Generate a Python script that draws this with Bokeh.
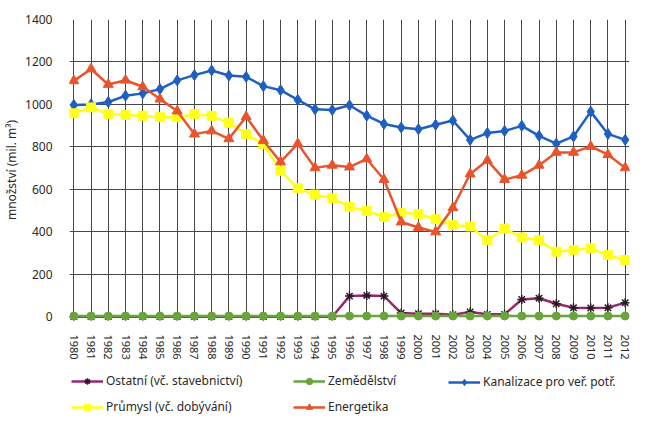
from bokeh.plotting import figure
from bokeh.layouts import column
from bokeh.models import Range1d, FixedTicker, Legend, LegendItem
from bokeh.embed import file_html
from bokeh.resources import INLINE

years = [1980, 1981, 1982, 1983, 1984, 1985, 1986, 1987, 1988, 1989, 1990,
         1991, 1992, 1993, 1994, 1995, 1996, 1997, 1998, 1999, 2000, 2001,
         2002, 2003, 2004, 2005, 2006, 2007, 2008, 2009, 2010, 2011, 2012]

ostatni = [0, 0, 0, 0, 0, 0, 0, 0, 0, 0, 0, 0, 0, 0, 0, 0,
           97, 100, 97, 17, 14, 14, 9, 22, 11, 11, 81, 87, 61, 42, 41, 42, 66]
zemedelstvi = [3, 3, 3, 3, 3, 3, 3, 3, 3, 3, 3, 3, 3, 3, 3, 3, 3,
               3, 3, 3, 3, 3, 3, 3, 3, 3, 3, 3, 3, 3, 3, 3, 3]
kanalizace = [997, 1000, 1011, 1041, 1052, 1072, 1113, 1138, 1160, 1136, 1130,
              1086, 1067, 1021, 977, 974, 996, 947, 908, 891, 883, 904,
              924, 833, 865, 875, 899, 852, 815, 849, 966, 861, 833]
prumysl = [958, 986, 955, 950, 947, 940, 940, 954, 946, 914, 860,
           813, 688, 605, 575, 558, 518, 498, 470, 490, 484, 459,
           432, 425, 360, 415, 373, 360, 306, 314, 322, 290, 267]
energetika = [1111, 1167, 1094, 1114, 1083, 1025, 969, 860, 875, 838, 942,
              830, 729, 815, 701, 713, 705, 743, 646, 446, 420, 399,
              513, 672, 736, 646, 666, 713, 774, 774, 802, 763, 701]

y_ticks = [0, 200, 400, 600, 800, 1000, 1200, 1400]
y_label = "množství (mil. m³)"

FONT = "Noto Sans"
TXT = "#2a2a2a"

p = figure(width=648, height=362,
           output_backend="svg", toolbar_location=None,
           x_range=Range1d(1979.75, 2012.25), y_range=Range1d(-18, 1400),
           min_border_left=66, min_border_right=19, min_border_top=19,
           min_border_bottom=40)
p.outline_line_color = None
p.background_fill_color = "white"
p.border_fill_color = "white"

p.xaxis.ticker = FixedTicker(ticks=years)
p.xaxis.major_label_overrides = {y: str(y) for y in years}
p.xaxis.major_label_orientation = "vertical"
p.yaxis.ticker = FixedTicker(ticks=y_ticks)
for ax in (p.xaxis, p.yaxis):
    ax.axis_line_color = None
    ax.major_tick_line_color = None
    ax.minor_tick_line_color = None
    ax.major_label_text_font = FONT
    ax.major_label_text_color = TXT
p.xaxis.major_label_text_font_size = "11px"
p.xaxis.major_label_standoff = 8
p.yaxis.major_label_text_font_size = "12px"
p.yaxis.major_label_standoff = 11
p.yaxis.axis_label = y_label
p.yaxis.axis_label_text_font = FONT
p.yaxis.axis_label_text_font_style = "normal"
p.yaxis.axis_label_text_font_size = "12px"
p.yaxis.axis_label_text_color = TXT
p.yaxis.axis_label_standoff = 2

p.xgrid.ticker = FixedTicker(ticks=years)
p.ygrid.ticker = FixedTicker(ticks=y_ticks)
for g in (p.xgrid, p.ygrid):
    g.grid_line_color = "#474747"
    g.grid_line_width = 1

series = [
    ("Ostatní (vč. stavebnictví)", ostatni, "#96286E", "asterisk", "#2b1a26", 9),
    ("Zemědělství", zemedelstvi, "#6AA43C", "circle", "#6AA43C", 8),
    ("Kanalizace pro veř. potř.", kanalizace, "#1F5FC0", "diamond", "#1F5FC0", 11),
    ("Průmysl (vč. dobývání)", prumysl, "#FFFF1E", "square", "#FFFF1E", 9),
    ("Energetika", energetika, "#E8542C", "triangle", "#E8542C", 10),
]

# legend strip below the chart (its data lies outside its ranges, so only the legend shows)
pl = figure(width=648, height=62, output_backend="svg", toolbar_location=None,
            x_range=Range1d(0, 1), y_range=Range1d(-5000, -4000),
            x_axis_type=None, y_axis_type=None, min_border=0)
pl.outline_line_color = None
pl.grid.visible = False

items = {}
for name, vals, col, mk, mcol, size in series:
    p.line(years, vals, line_color=col, line_width=2.5)
    p.scatter(years, vals, marker=mk, size=size, fill_color=mcol,
              line_color=mcol, line_width=1.5 if mk == "asterisk" else 1)
    lr = pl.line(years, vals, line_color=col, line_width=2.5)
    sr = pl.scatter(years, vals, marker=mk, size=size, fill_color=mcol,
                    line_color=mcol, line_width=1.5 if mk == "asterisk" else 1)
    items[name] = LegendItem(label=name, renderers=[lr, sr])

cols = [
    (["Ostatní (vč. stavebnictví)", "Průmysl (vč. dobývání)"], (2, 9)),
    (["Zemědělství", "Energetika"], (224, 9)),
    (["Kanalizace pro veř. potř."], (379, 34)),
]
for names, loc in cols:
    leg = Legend(items=[items[k] for k in names], location=loc,
                 orientation="vertical", glyph_width=32, glyph_height=16,
                 label_height=16, spacing=9, padding=0, margin=0,
                 label_standoff=3, border_line_color=None,
                 background_fill_alpha=0, label_text_font=FONT,
                 label_text_font_size="12px", label_text_color=TXT)
    pl.add_layout(leg, "center")

layout = column(p, pl, spacing=0)
open("out.html", "w").write(file_html(layout, INLINE))
